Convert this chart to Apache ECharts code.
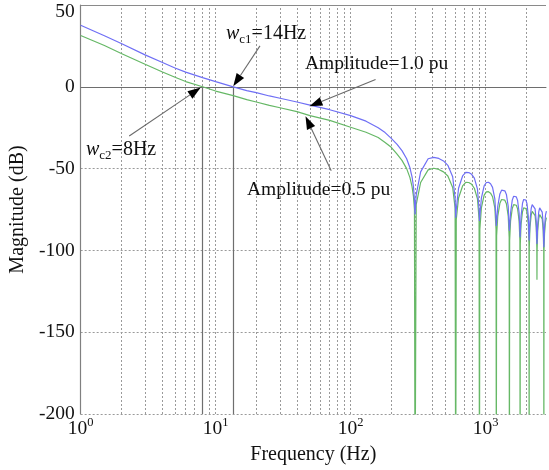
<!DOCTYPE html>
<html><head><meta charset="utf-8">
<script src="https://cdn.jsdelivr.net/npm/echarts@6/dist/echarts.min.js"></script>
<style>html,body{margin:0;padding:0;background:#fff}#c{width:549px;height:470px}</style>
</head><body><div id="c"></div>
<script>
// ---- data ----
const freq = [1,1.5,2,3,4,5,6,8,10,13.5,17,20,25,30,40,50,70,100,130,160,180,200,220,240,260,275,285,292,297,300,
306,330,375,412.5,450,487.5,525,570,594,600,
606,630,675,712.5,750,787.5,825,870,894,900,
906,930,975,1012.5,1050,1087.5,1125,1170,1194,1200,
1206,1230,1275,1312.5,1350,1387.5,1425,1470,1494,1500,
1506,1530,1575,1612.5,1650,1687.5,1725,1770,1794,1800,
1806,1830,1875,1912.5,1950,1987.5,2025,2070,2094,2100,
2106,2130,2175,2212.5,2250,2287.5,2325,2370,2394,2400,
2406,2430,2475,2512.5,2550,2587.5,2625,2670,2694,2700,
2706,2730,2775,2820];
const amp10 = [37.6,31.2,26.5,19.5,15.0,11.5,9.0,5.6,3.2,0,-2.3,-3.6,-5.6,-7.0,-9.3,-11.2,-14.0,-17.6,-21.0,-25.0,-28.0,-31.5,-35.0,-39.0,-44.0,-49.5,-55,-61,-69,-78,
-66,-52,-44,-43.1,-43.8,-45.3,-48,-55,-68,-80,
-75,-62,-54.5,-52.3,-52.4,-53.5,-55.8,-62.5,-75,-82,
-81,-68,-60.5,-58.5,-58.4,-59.3,-61.5,-68.5,-81,-85,
-85,-73,-65.5,-63.2,-62.9,-63.6,-65.8,-73,-86,-88,
-89,-77,-69.3,-66.9,-66.6,-67.3,-69.5,-77,-88,-92,
-91,-79,-71.3,-68.9,-68.6,-69.3,-71.5,-79,-91,-94,
-94,-82,-74.4,-72,-71.7,-72.4,-74.6,-82,-94,-96,
-96,-84,-76.4,-74,-73.7,-74.4,-76.6,-84,-96,-98,
-97,-86,-78.5,-76];
const amp05 = [31.4,25.2,20.4,13.8,9.2,5.8,3.2,0,-2.6,-5.4,-7.8,-9.3,-11.4,-12.8,-15.2,-17.6,-20.5,-24.7,-27.8,-31,-34,-37,-41,-45,-50,-55.5,-61,-67,-75,-260,
-72,-58.5,-50.8,-49.8,-50.5,-52,-54.5,-61.5,-74,-260,
-81,-68,-60.6,-58.4,-58.5,-59.6,-62,-68.5,-81,-260,
-87,-74,-66.2,-64.2,-64.1,-65,-67.2,-74,-87,-260,
-91,-79,-71.2,-68.9,-68.6,-69.3,-71.5,-79,-92,-260,
-94,-82,-74.4,-72,-71.7,-72.4,-74.6,-82,-94,-260,
-96,-84,-76.4,-74,-73.7,-74.4,-76.6,-84,-96,-260,
-98,-86,-78.5,-76.1,-75.8,-76.5,-78.7,-86,-98,-118,
-100,-88,-80.5,-78.1,-77.8,-78.5,-80.7,-88,-100,-260,
-100,-90,-82.5,-80];
const xMajor = [10,100,1000];
const xMinor = [2,3,4,5,6,7,8,9,20,30,40,50,60,70,80,90,200,300,400,500,600,700,800,900,2000];
const crossFreqs = [8,13.5];
// annotation arrows: [tail, tip] in data units
const arrows = [
  [[21.3,25.0],[13.5,0.3]],
  [[2.29,-30.1],[7.75,-0.5]],
  [[153,4.4],[49.5,-11.9]],
  [[71.8,-51.3],[46.3,-18.0]]
];

const FONT = '"Liberation Serif","DejaVu Serif",serif';
const chart = echarts.init(document.getElementById('c'), null, {renderer:'canvas'});
const gridDash = {color:'#9a9a9a', width:1, type:[2,2]};
const solidGray = {color:'#6e6e6e', width:1.2, type:'solid'};

const markLineData = [];
xMinor.concat(xMajor).forEach(v => markLineData.push({xAxis:v, lineStyle:gridDash}));
markLineData.push({yAxis:0, lineStyle:solidGray});
markLineData.push({yAxis:50, lineStyle:{color:'#8a8a8a', width:1.2, type:'solid'}});
crossFreqs.forEach(f => markLineData.push([{coord:[f,-200], lineStyle:solidGray},{coord:[f,0]}]));

chart.setOption({
  animation:false,
  backgroundColor:'#fff',
  grid:{left:79, right:0, top:5, bottom:53, containLabel:false},
  xAxis:{
    type:'log', logBase:10, min:1, max:2800,
    name:'Frequency (Hz)', nameLocation:'middle', nameGap:31,
    nameTextStyle:{fontFamily:FONT, fontSize:20, color:'#111'},
    axisLine:{show:true, lineStyle:{color:'#808080', width:1.2}},
    axisTick:{show:false},
    splitLine:{show:false},
    axisLabel:{
      margin:2, color:'#111', fontFamily:FONT,
      formatter:function(v){
        const e = Math.log10(v);
        if (Math.abs(e-Math.round(e))<1e-6 && v<=1000) return '{b|10}{s|'+Math.round(e)+'}';
        return '';
      },
      rich:{b:{fontFamily:FONT, fontSize:19.5, lineHeight:25, color:'#111'},
            s:{fontFamily:FONT, fontSize:12.5, lineHeight:12, verticalAlign:'top', color:'#111'}}
    }
  },
  yAxis:{
    type:'value', min:-200, max:50, interval:50,
    name:'Magnitude (dB)', nameLocation:'middle', nameGap:52,
    nameTextStyle:{fontFamily:FONT, fontSize:20, color:'#111'},
    axisLine:{show:true, lineStyle:{color:'#808080', width:1.2}},
    axisTick:{show:false},
    splitLine:{show:true, lineStyle:gridDash},
    axisLabel:{
      margin:6, color:'#111', fontFamily:FONT, fontSize:19.5,
      formatter:function(v){ return v===50 ? '{t|50}' : String(v); },
      rich:{t:{fontFamily:FONT, fontSize:19.5, padding:[13,0,0,0], color:'#111'}}
    }
  },
  series:[
    {type:'line', name:'guides', data:[], silent:true,
     markLine:{silent:true, symbol:['none','none'], z:1, label:{show:false}, animation:false, data:markLineData}},
    {type:'line', name:'Amplitude=0.5 pu', data:freq.map((f,i)=>[f,amp05[i]]), showSymbol:false, symbol:'none',
     lineStyle:{color:'#66b866', width:1.2}, itemStyle:{color:'#66b866'}, z:3, clip:true},
    {type:'line', name:'Amplitude=1.0 pu', data:freq.map((f,i)=>[f,amp10[i]]), showSymbol:false, symbol:'none',
     lineStyle:{color:'#6f6ff5', width:1.2}, itemStyle:{color:'#6f6ff5'}, z:4, clip:true}
  ]
});

// annotations
const g = [];
arrows.forEach(a => {
  const p0 = chart.convertToPixel({gridIndex:0}, a[0]);
  const p1 = chart.convertToPixel({gridIndex:0}, a[1]);
  const dx = p1[0]-p0[0], dy = p1[1]-p0[1], L = Math.hypot(dx,dy);
  const ux = dx/L, uy = dy/L, hl = 13, hw = 4.5;
  const bx = p1[0]-ux*hl, by = p1[1]-uy*hl;
  g.push({type:'line', z:20, shape:{x1:p0[0], y1:p0[1], x2:bx, y2:by}, style:{stroke:'#6a6a6a', lineWidth:1.1}});
  g.push({type:'polygon', z:21, shape:{points:[[p1[0],p1[1]],[bx-uy*hw,by+ux*hw],[bx+uy*hw,by-ux*hw]]}, style:{fill:'#000'}});
});
const richAnn = {
  w:{fontFamily:FONT, fontSize:20, fontStyle:'italic', lineHeight:24, fill:'#111'},
  s:{fontFamily:FONT, fontSize:13, lineHeight:13, verticalAlign:'bottom', fill:'#111'},
  n:{fontFamily:FONT, fontSize:20, lineHeight:24, fill:'#111'}
};
g.push({type:'text', z:22, style:{x:226, y:34, text:'{w|w}{s|c1}{n|=14Hz}', rich:richAnn, verticalAlign:'middle', align:'left'}});
g.push({type:'text', z:22, style:{x:86, y:150, text:'{w|w}{s|c2}{n|=8Hz}', rich:richAnn, verticalAlign:'middle', align:'left'}});
g.push({type:'text', z:22, style:{x:305, y:63.5, text:'Amplitude=1.0 pu', font:'19.5px '+FONT, fill:'#111', verticalAlign:'middle', align:'left'}});
g.push({type:'text', z:22, style:{x:247, y:189.5, text:'Amplitude=0.5 pu', font:'19.5px '+FONT, fill:'#111', verticalAlign:'middle', align:'left'}});
chart.setOption({graphic:g});
</script></body></html>
